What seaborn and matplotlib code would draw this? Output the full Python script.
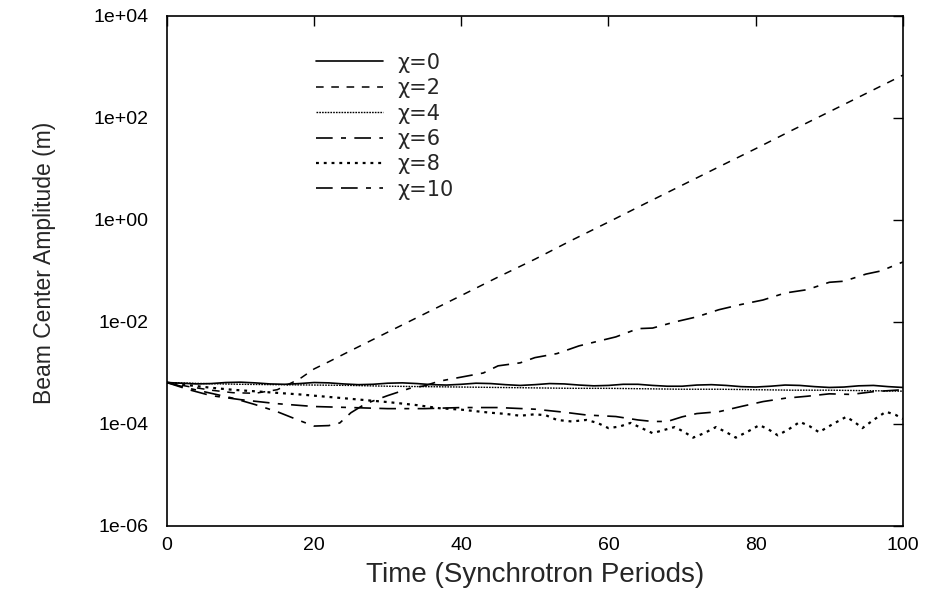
import numpy as np
import pandas as pd
import seaborn as sns
import matplotlib.pyplot as plt
from matplotlib.ticker import FixedLocator, NullLocator, FuncFormatter

# values (time in synchrotron periods, amplitude in m)
t_chi0 = [0, 2, 4, 6, 8, 10, 12, 14, 16, 18, 20, 22, 24, 26, 28, 30, 32, 34, 36, 38, 40,
          42, 44, 46, 48, 50, 52, 54, 56, 58, 60, 62, 64, 66, 68, 70, 72, 74, 76, 78, 80,
          82, 84, 86, 88, 90, 92, 94, 96, 98, 100]
amp_chi0 = [6.5e-4, 6.3e-4, 6.1e-4, 6.2e-4, 6.5e-4, 6.6e-4, 6.4e-4, 6.1e-4, 6.0e-4, 6.2e-4,
            6.5e-4, 6.4e-4, 6.1e-4, 5.9e-4, 6.0e-4, 6.3e-4, 6.4e-4, 6.2e-4, 5.9e-4, 5.8e-4,
            6.0e-4, 6.3e-4, 6.2e-4, 5.9e-4, 5.7e-4, 5.9e-4, 6.2e-4, 6.1e-4, 5.8e-4, 5.6e-4,
            5.7e-4, 6.0e-4, 6.0e-4, 5.7e-4, 5.5e-4, 5.5e-4, 5.8e-4, 5.9e-4, 5.7e-4, 5.4e-4,
            5.3e-4, 5.5e-4, 5.8e-4, 5.7e-4, 5.4e-4, 5.2e-4, 5.3e-4, 5.6e-4, 5.7e-4, 5.4e-4,
            5.2e-4]

t_chi2 = [0, 3, 6, 9, 12, 15, 18, 20, 22, 25, 30, 35, 40, 45, 50, 55, 60, 65, 70, 75,
          80, 85, 90, 95, 100]
amp_chi2 = [6.5e-4, 5.4e-4, 4.6e-4, 4.1e-4, 4.0e-4, 4.7e-4, 7.6e-4, 1.2e-3, 1.66e-3,
            2.75e-3, 6.3e-3, 1.44e-2, 3.3e-2, 7.6e-2, 0.17, 0.40, 0.91, 2.1, 4.8, 11,
            25, 58, 132, 302, 692]

t_chi4 = [0, 5, 10, 15, 20, 25, 30, 35, 40, 45, 50, 55, 60, 65, 70, 75, 80, 85, 90, 95, 100]
amp_chi4 = [6.5e-4, 6.2e-4, 6.0e-4, 5.9e-4, 5.8e-4, 5.7e-4, 5.5e-4, 5.4e-4, 5.3e-4, 5.2e-4,
            5.1e-4, 5.0e-4, 5.0e-4, 4.9e-4, 4.8e-4, 4.8e-4, 4.7e-4, 4.6e-4, 4.6e-4, 4.5e-4,
            4.4e-4]

t_chi6 = [0, 3, 6, 9, 12, 15, 18, 20, 22, 23.5, 25, 27, 30, 33, 35, 37, 40, 43, 45, 48,
          50, 53, 56, 58, 61, 64, 66, 69, 72, 75, 78, 81, 84, 87, 90, 92, 95, 97, 100]
amp_chi6 = [6.5e-4, 5.0e-4, 4.0e-4, 3.2e-4, 2.4e-4, 1.74e-4, 1.17e-4, 9.1e-5, 9.3e-5,
            1.05e-4, 1.66e-4, 2.5e-4, 3.6e-4, 5.0e-4, 5.6e-4, 6.9e-4, 8.3e-4, 1.0e-3,
            1.38e-3, 1.58e-3, 2.0e-3, 2.4e-3, 3.4e-3, 4.0e-3, 5.1e-3, 7.4e-3, 7.6e-3,
            1.0e-2, 1.26e-2, 1.74e-2, 2.2e-2, 2.7e-2, 3.7e-2, 4.3e-2, 6.0e-2, 6.3e-2,
            8.7e-2, 0.10, 0.15]

t_chi8 = [0, 3, 6, 9, 12, 15, 18, 22, 26, 30, 34, 37, 40, 42, 44, 46, 48, 50, 51.5, 53,
          55, 57, 58.5, 60, 61.5, 63, 64.5, 66, 67.5, 69, 70.2, 71.5, 73, 74.6, 76, 77.3,
          79, 80.5, 81.7, 83, 84.5, 86, 87.3, 88.6, 90.5, 92.3, 93.4, 94.5, 96, 97.7, 99,
          100]
amp_chi8 = [6.5e-4, 5.75e-4, 5.13e-4, 4.68e-4, 4.37e-4, 4.07e-4, 3.8e-4, 3.39e-4, 3.02e-4,
            2.69e-4, 2.34e-4, 2.04e-4, 1.91e-4, 1.78e-4, 1.66e-4, 1.58e-4, 1.45e-4,
            1.55e-4, 1.48e-4, 1.2e-4, 1.12e-4, 1.2e-4, 1.05e-4, 8.3e-5, 8.9e-5, 1.05e-4,
            8.3e-5, 6.6e-5, 7.6e-5, 8.7e-5, 7.1e-5, 5.4e-5, 6.6e-5, 8.7e-5, 6.9e-5,
            5.4e-5, 7.2e-5, 9.5e-5, 7.9e-5, 6.0e-5, 7.9e-5, 1.1e-4, 9.1e-5, 6.9e-5,
            1.0e-4, 1.38e-4, 1.1e-4, 8.3e-5, 1.2e-4, 1.74e-4, 1.51e-4, 1.26e-4]

t_chi10 = [0, 3, 6, 10, 15, 20, 25, 30, 35, 40, 45, 50, 54, 57, 61, 64, 66, 68, 70, 72,
           75, 78, 81, 84, 87, 90, 93, 96, 100]
amp_chi10 = [6.5e-4, 4.7e-4, 3.6e-4, 3.0e-4, 2.5e-4, 2.2e-4, 2.1e-4, 2.0e-4, 2.0e-4,
             2.1e-4, 2.1e-4, 1.95e-4, 1.7e-4, 1.5e-4, 1.4e-4, 1.2e-4, 1.12e-4, 1.12e-4,
             1.38e-4, 1.6e-4, 1.74e-4, 2.2e-4, 2.75e-4, 3.2e-4, 3.5e-4, 3.9e-4, 3.8e-4,
             4.3e-4, 4.7e-4]

labels = ['χ=0', 'χ=2', 'χ=4', 'χ=6', 'χ=8', 'χ=10']
times = [t_chi0, t_chi2, t_chi4, t_chi6, t_chi8, t_chi10]
amps = [amp_chi0, amp_chi2, amp_chi4, amp_chi6, amp_chi8, amp_chi10]

styles = [dict(linestyle='-', linewidth=1.2),
          dict(linestyle=(0, (5, 5)), linewidth=1.1),
          dict(linestyle=(0, (1.2, 0.8)), linewidth=1.0),
          dict(linestyle=(0, (10, 5, 3, 5)), linewidth=1.2),
          dict(linestyle=(0, (1.3, 2.2)), linewidth=1.6),
          dict(linestyle=(0, (10, 5, 10, 5, 3, 5)), linewidth=1.2)]

sns.set_style('white')
plt.rcParams['font.family'] = ['Liberation Sans', 'DejaVu Sans']

fig = plt.figure(figsize=(9.27, 5.91), dpi=100)
ax = fig.add_axes([0.180, 0.110, 0.794, 0.863])

for lab, t, a, st in zip(labels, times, amps, styles):
    d = pd.DataFrame({'time': t, 'amp': a})
    sns.lineplot(data=d, x='time', y='amp', ax=ax, color='black', label=lab, **st)

ax.set_yscale('log')
ax.set_xlim(0, 100)
ax.set_ylim(1e-6, 1e4)
ax.yaxis.set_major_locator(FixedLocator([1e-6, 1e-4, 1e-2, 1e0, 1e2, 1e4]))
ax.yaxis.set_minor_locator(NullLocator())
ax.yaxis.set_major_formatter(FuncFormatter(lambda v, p: f'{v:.0e}'))
ax.set_xticks([0, 20, 40, 60, 80, 100])

for s in ax.spines.values():
    s.set_linewidth(1.2)
    s.set_color('black')
ax.tick_params(axis='both', direction='in', length=7, width=1.0, labelsize=14,
               top=True, right=True, colors='black')
ax.tick_params(axis='y', pad=13)
ax.tick_params(axis='x', pad=8)

ax.set_xlabel('Time (Synchrotron Periods)', fontsize=20)
ax.set_ylabel('Beam Center Amplitude (m)', fontsize=16.5)
ax.xaxis.set_label_coords(0.5, -0.07)
ax.yaxis.set_label_coords(-0.15, 0.516)

leg = ax.legend(loc='upper left', bbox_to_anchor=(0.2025, 0.928), frameon=False,
                prop={'family': ['DejaVu Sans'], 'size': 15},
                handlelength=3.2, handletextpad=0.7, labelspacing=0.26,
                borderpad=0, borderaxespad=0)

fig.savefig('out.png', dpi=100)
